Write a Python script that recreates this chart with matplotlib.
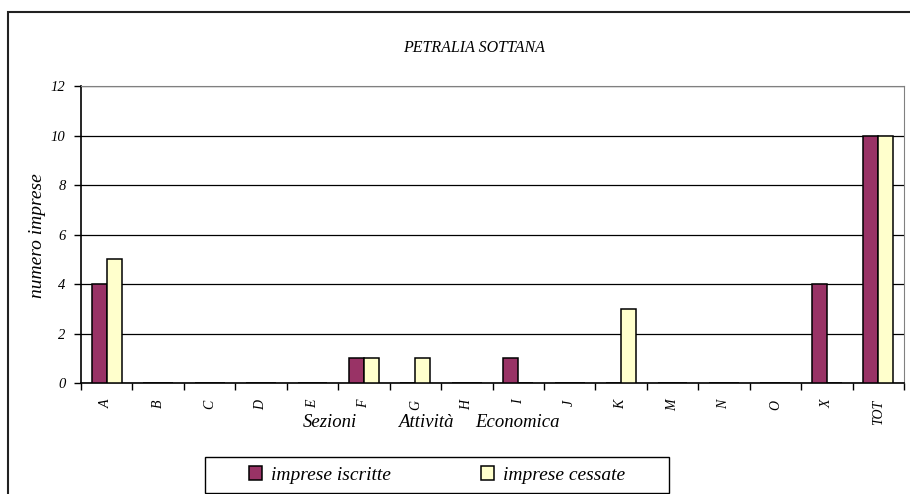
import matplotlib.pyplot as plt
import numpy as np
from matplotlib.patches import Rectangle

sezioni = ['A', 'B', 'C', 'D', 'E', 'F', 'G', 'H', 'I', 'J', 'K', 'M', 'N', 'O', 'X', 'TOT']
iscritte = [4, 0, 0, 0, 0, 1, 0, 0, 1, 0, 0, 0, 0, 0, 4, 10]
cessate = [5, 0, 0, 0, 0, 1, 1, 0, 0, 0, 3, 0, 0, 0, 0, 10]
yticks = [0, 2, 4, 6, 8, 10, 12]

plt.rcParams['font.family'] = 'Liberation Serif'
plt.rcParams['font.style'] = 'italic'

W, H = 910, 494
fig = plt.figure(figsize=(W / 100, H / 100), dpi=100)

# outer chart frame (right and bottom edges fall outside the picture)
fig.patches.append(Rectangle((8 / W, -0.1), 1.2, (H - 12) / H + 0.1,
                             transform=fig.transFigure, fill=False,
                             edgecolor='#222222', lw=1.5))

ax = fig.add_axes([81 / W, 1 - 383 / H, (904 - 81) / W, (383 - 86) / H])

x = np.arange(len(sezioni))
bw = 0.29
ax.bar(x - bw / 2, iscritte, bw, color='#993366', edgecolor='black', lw=1.1,
       label='imprese iscritte', zorder=3)
ax.bar(x + bw / 2, cessate, bw, color='#FFFFCC', edgecolor='black', lw=1.1,
       label='imprese cessate', zorder=3)

ax.set_xlim(-0.5, len(sezioni) - 0.5)
ax.set_ylim(0, 12)
ax.set_yticks(yticks)
ax.set_yticklabels([str(v) for v in yticks], fontsize=10.5)
ax.yaxis.grid(True, color='black', lw=0.9, zorder=0)
ax.set_axisbelow(True)

ax.set_xticks(x)
ax.set_xticklabels(sezioni, rotation=90, fontsize=10)
ax.tick_params(axis='x', length=0, pad=12)
ax.set_xticks(np.arange(len(sezioni) + 1) - 0.5, minor=True)
ax.tick_params(axis='x', which='minor', length=5, direction='out', width=1)
ax.tick_params(axis='y', length=5, direction='out', width=1, pad=6)

for s in ['top', 'right']:
    ax.spines[s].set_color('#808080')
for s in ['left', 'bottom']:
    ax.spines[s].set_color('black')
    ax.spines[s].set_linewidth(1.2)

ax.set_ylabel('numero imprese', fontsize=14)
ax.yaxis.set_label_coords((46 - 81) / (904 - 81), (383 - 236) / (383 - 86))

# x axis title, three words spaced as in the original
for word, xp in [('Sezioni', 303), ('Attività', 398), ('Economica', 475)]:
    fig.text(xp / W, 1 - 427 / H, word, fontsize=13.5, ha='left', va='baseline')

fig.text(474 / W, 1 - 48 / H, 'PETRALIA SOTTANA', fontsize=11.5,
         ha='center', va='center')

leg = fig.legend(loc='center', bbox_to_anchor=(437 / W, 1 - 475 / H), ncol=2,
                 fontsize=14, frameon=False, handlelength=0.67,
                 handleheight=0.67, columnspacing=4.6, handletextpad=0.46)
fig.patches.append(Rectangle((205 / W, 1 - 493 / H), (669 - 205) / W, 36 / H,
                             transform=fig.transFigure, fill=False,
                             edgecolor='black', lw=1))

fig.savefig('out.png', dpi=100)
